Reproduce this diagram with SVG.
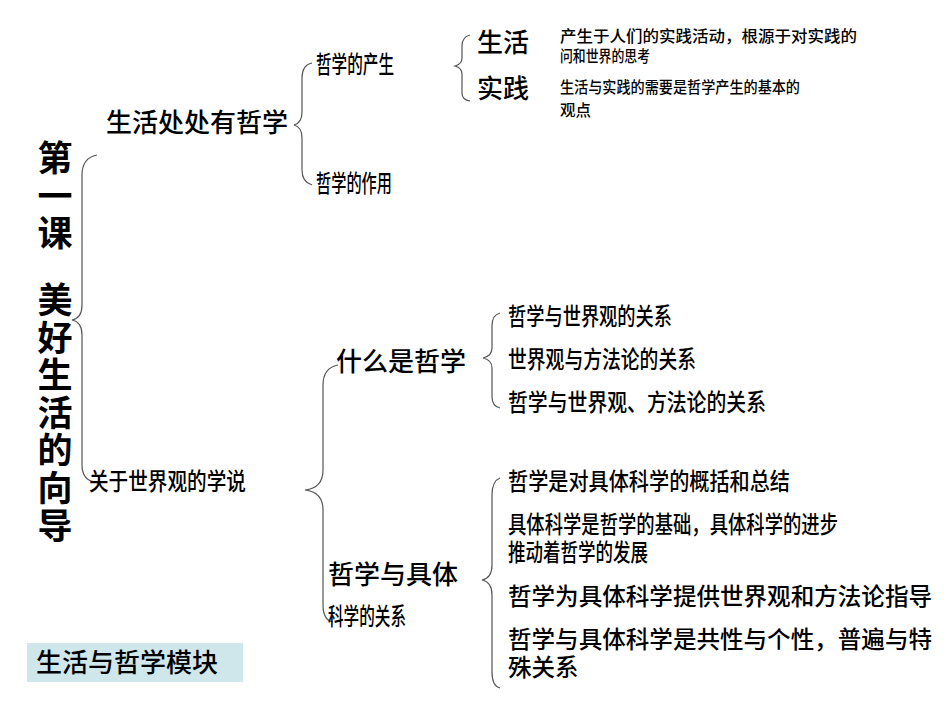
<svg xmlns="http://www.w3.org/2000/svg" width="950" height="713" viewBox="0 0 950 713">
<style>
text{font-family:"Liberation Sans","Noto Sans CJK SC",sans-serif;fill:#000;font-weight:500}
.m{font-size:23.5px}
.l{font-size:26px}
.s{font-size:15.5px}
.b{font-size:26px}
.t{font-size:35px;font-weight:bold}
.br{fill:none;stroke:#555;stroke-width:1.2}
</style>
<rect width="950" height="713" fill="#fff"/>
<g id="connectors">
<path class="br" d="M97,155 Q82,158 82,175 L82,305 Q82,318 72,320 Q82,322 82,335 L82,465 Q82,480 95,482"/>
<path class="br" d="M312,63 Q302,65 302,78 L302,112 Q302,123 294,125 Q302,127 302,138 L302,170 Q302,182 312,185"/>
<path class="br" d="M470,35 Q462,37 462,46 L462,58 Q462,64 455,66 Q462,68 462,74 L462,93 Q462,100 470,101"/>
<path class="br" d="M338,365 Q323,368 323,385 L323,470 Q323,488 305,490 Q323,492 323,510 L323,605 Q323,620 333,622"/>
<path class="br" d="M500,313 Q492,315 492,326 L492,348 Q492,356 483,358 Q492,360 492,368 L492,397 Q492,406 500,408"/>
<path class="br" d="M500,478 Q492,481 492,495 L492,565 Q492,578 482,580 Q492,582 492,595 L492,672 Q492,686 500,688"/>
</g>
<g id="title"><text class="t" x="55" y="171" text-anchor="middle">第</text><text class="t" x="55" y="209" text-anchor="middle">一</text><text class="t" x="55" y="246" text-anchor="middle">课</text><text class="t" x="55" y="313" text-anchor="middle">美</text><text class="t" x="55" y="351" text-anchor="middle">好</text><text class="t" x="55" y="388" text-anchor="middle">生</text><text class="t" x="55" y="426" text-anchor="middle">活</text><text class="t" x="55" y="463" text-anchor="middle">的</text><text class="t" x="55" y="501" text-anchor="middle">向</text><text class="t" x="55" y="539" text-anchor="middle">导</text></g>
<g id="n1"><text class="l" x="106" y="132">生活处处有哲学</text></g>
<g id="n2"><text class="m" x="316" y="73" textLength="78" lengthAdjust="spacingAndGlyphs">哲学的产生</text></g>
<g id="n3"><text class="m" x="316" y="192" textLength="76" lengthAdjust="spacingAndGlyphs">哲学的作用</text></g>
<g id="n4"><text class="b" x="477" y="52">生活</text></g>
<g id="n5"><text class="b" x="477" y="98">实践</text></g>
<g id="n6"><text class="s" x="560" y="42" textLength="297" lengthAdjust="spacingAndGlyphs">产生于人们的实践活动，根源于对实践的</text><text class="s" x="560" y="62" textLength="90" lengthAdjust="spacingAndGlyphs">问和世界的思考</text></g>
<g id="n7"><text class="s" x="560" y="93" textLength="240" lengthAdjust="spacingAndGlyphs">生活与实践的需要是哲学产生的基本的</text><text class="s" x="560" y="116">观点</text></g>
<g id="n8"><text class="m" x="89" y="490" textLength="157" lengthAdjust="spacingAndGlyphs">关于世界观的学说</text></g>
<g id="n9"><text class="l" x="336" y="371">什么是哲学</text></g>
<g id="n10"><text class="l" x="328" y="584">哲学与具体</text><text class="m" x="328" y="625" textLength="78" lengthAdjust="spacingAndGlyphs">科学的关系</text></g>
<g id="n11"><text class="m" x="508" y="325" textLength="164" lengthAdjust="spacingAndGlyphs">哲学与世界观的关系</text><text class="m" x="508" y="368" textLength="188" lengthAdjust="spacingAndGlyphs">世界观与方法论的关系</text><text class="m" x="508" y="411" textLength="258" lengthAdjust="spacingAndGlyphs">哲学与世界观、方法论的关系</text></g>
<g id="n12"><text class="m" x="508" y="490" textLength="282" lengthAdjust="spacingAndGlyphs">哲学是对具体科学的概括和总结</text><text class="m" x="508" y="533" textLength="330" lengthAdjust="spacingAndGlyphs">具体科学是哲学的基础，具体科学的进步</text><text class="m" x="508" y="561" textLength="140" lengthAdjust="spacingAndGlyphs">推动着哲学的发展</text><text class="m" x="508" y="605" textLength="424" lengthAdjust="spacingAndGlyphs">哲学为具体科学提供世界观和方法论指导</text><text class="m" x="508" y="648" textLength="424" lengthAdjust="spacingAndGlyphs">哲学与具体科学是共性与个性，普遍与特</text><text class="m" x="508" y="676">殊关系</text></g>
<g id="module"><rect x="27" y="643" width="216" height="39" fill="#cfe6ea"/><text class="l" x="36" y="672">生活与哲学模块</text></g>
</svg>
